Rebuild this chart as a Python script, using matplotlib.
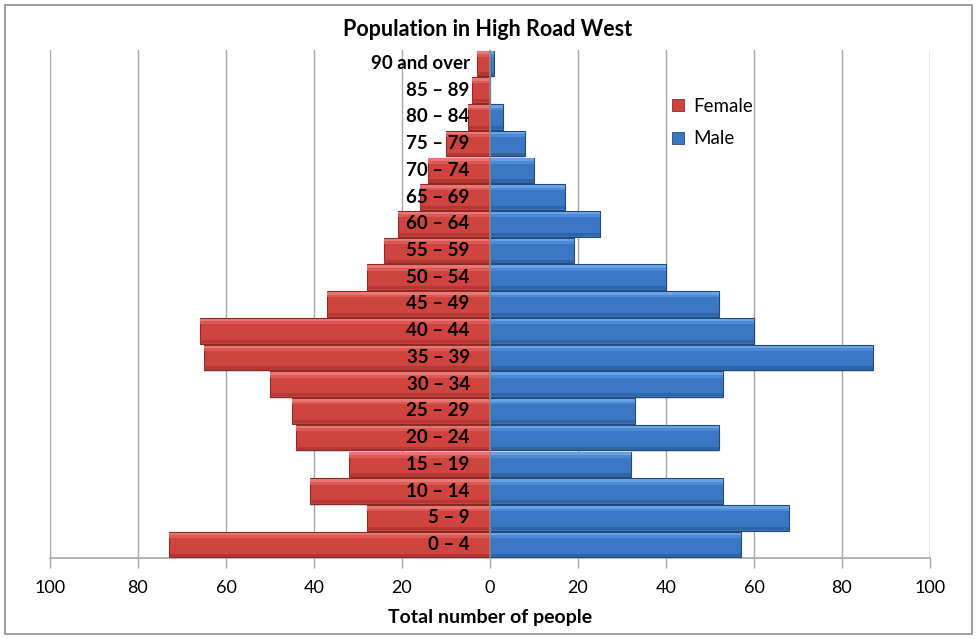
import numpy as np
import matplotlib.pyplot as plt
from matplotlib.patches import Rectangle

plt.rcParams['font.family'] = ['Lato', 'DejaVu Sans']

# === Data ===
age_groups = ['0 – 4', '5 – 9', '10 – 14', '15 – 19', '20 – 24', '25 – 29',
              '30 – 34', '35 – 39', '40 – 44', '45 – 49', '50 – 54', '55 – 59',
              '60 – 64', '65 – 69', '70 – 74', '75 – 79', '80 – 84', '85 – 89',
              '90 and over']
female = np.array([73, 28, 41, 32, 44, 45, 50, 65, 66, 37, 28, 24, 21, 16, 14, 10, 5, 4, 3])
male = np.array([57, 68, 53, 32, 52, 33, 53, 87, 60, 52, 40, 19, 25, 17, 10, 8, 3, 0, 1])
ticks = np.arange(-100, 101, 20)

# === Styling ===
red = dict(face='#D0443F', light='#EA7672', mid='#DC5A56', dark='#AE3430', edge='#8A2A27')
blue = dict(face='#3B77C2', light='#66A3E6', mid='#4C8AD6', dark='#2D609F', edge='#24497A')
grid_col = '#A8A8A8'

fig = plt.figure(figsize=(9.76, 6.39), dpi=100)
ax = fig.add_axes([50 / 976, 1 - 558 / 639, 880 / 976, 508 / 639])

y = np.arange(len(age_groups))
h = 0.955


def bevel_bars(vals, c):
    # soft drop shadow, flat face, then lit strips on top and a shaded strip below
    ax.barh(y - 0.06, vals, height=h, color='#000000', alpha=0.12,
            zorder=2, linewidth=0)
    ax.barh(y, vals, height=h, color=c['face'], edgecolor=c['edge'],
            linewidth=0.8, zorder=3)
    ax.barh(y + h / 2 - 0.17, vals, height=0.12, color=c['mid'],
            linewidth=0, zorder=4)
    ax.barh(y + h / 2 - 0.08, vals, height=0.10, color=c['light'],
            linewidth=0, zorder=4)
    ax.barh(y - h / 2 + 0.08, vals, height=0.12, color=c['dark'],
            linewidth=0, zorder=4, alpha=0.8)


bevel_bars(-female, red)
bevel_bars(male, blue)

# Centre axis line
ax.axvline(0, color='#8C8C8C', linewidth=1.2, zorder=5)

# Age group labels sit just left of the centre line, over the bars
for yi, lab in zip(y, age_groups):
    ax.text(-4.6, yi, lab, ha='right', va='center', fontsize=13.5,
            fontweight='bold', color='black', zorder=6)

ax.set_xlim(-100, 100)
ax.set_ylim(-0.5, len(age_groups) - 0.5)
ax.set_xticks(ticks)
ax.set_xticklabels([str(abs(t)) for t in ticks], fontsize=13)
ax.set_yticks([])
ax.tick_params(axis='x', direction='out', length=7, width=1, color=grid_col, pad=9)

for t in ticks:
    if t != 0:
        ax.axvline(t, color=grid_col, linewidth=1, zorder=1)

for side in ['top', 'right', 'left']:
    ax.spines[side].set_visible(False)
ax.spines['bottom'].set_color(grid_col)
ax.spines['bottom'].set_linewidth(1.2)

ax.set_xlabel('Total number of people', fontsize=14, fontweight='bold', labelpad=9)
fig.text(0.5, 1 - 30 / 639, 'Population in High Road West', ha='center',
         va='center', fontsize=15.5, fontweight='bold')

# Legend
handles = [Rectangle((0, 0), 1, 1, facecolor=red['face'], edgecolor=red['edge'], lw=0.6),
           Rectangle((0, 0), 1, 1, facecolor=blue['face'], edgecolor=blue['edge'], lw=0.6)]
fig.legend(handles, ['Female', 'Male'], loc='upper left',
           bbox_to_anchor=(664 / 976, 1 - 90 / 639), frameon=False, fontsize=13.5,
           handlelength=0.65, handleheight=0.65, handletextpad=0.5,
           labelspacing=0.85, borderaxespad=0)

# Outer chart border
fig.patches.append(Rectangle((5 / 976, 5 / 639), 967 / 976, 629 / 639,
                             transform=fig.transFigure, fill=False,
                             edgecolor='#8C8C8C', linewidth=1.2))

fig.savefig('out.png', dpi=100)
